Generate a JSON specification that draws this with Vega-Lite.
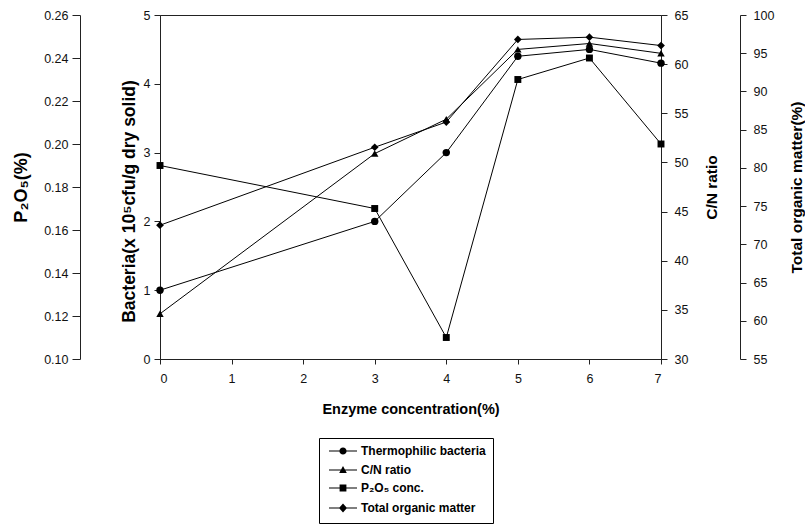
{
  "$schema": "https://vega.github.io/schema/vega-lite/v6.json",
  "width": 501,
  "height": 344,
  "autosize": {"type": "none"},
  "padding": {"left": 160, "top": 15, "right": 144, "bottom": 173},
  "background": "white",
  "config": {
    "view": {"stroke": "#222", "strokeWidth": 1},
    "font": "Liberation Sans",
    "axis": {
      "grid": false,
      "labelFont": "Liberation Sans",
      "labelFontSize": 12.5,
      "labelColor": "#111",
      "titleFont": "Liberation Sans",
      "titleFontWeight": "bold",
      "titleColor": "#000",
      "domainColor": "#222",
      "tickColor": "#222",
      "tickSize": 6,
      "labelPadding": 4
    }
  },
  "data": {
    "values": [
      {"conc": 0, "series": "Thermophilic bacteria", "value": 1.0},
      {"conc": 3, "series": "Thermophilic bacteria", "value": 2.0},
      {"conc": 4, "series": "Thermophilic bacteria", "value": 3.0},
      {"conc": 5, "series": "Thermophilic bacteria", "value": 4.4},
      {"conc": 6, "series": "Thermophilic bacteria", "value": 4.5},
      {"conc": 7, "series": "Thermophilic bacteria", "value": 4.3},
      {"conc": 0, "series": "C/N ratio", "value": 34.6},
      {"conc": 3, "series": "C/N ratio", "value": 50.9},
      {"conc": 4, "series": "C/N ratio", "value": 54.4},
      {"conc": 5, "series": "C/N ratio", "value": 61.5},
      {"conc": 6, "series": "C/N ratio", "value": 62.1},
      {"conc": 7, "series": "C/N ratio", "value": 61.1},
      {"conc": 0, "series": "P₂O₅ conc.", "value": 0.19},
      {"conc": 3, "series": "P₂O₅ conc.", "value": 0.17},
      {"conc": 4, "series": "P₂O₅ conc.", "value": 0.11},
      {"conc": 5, "series": "P₂O₅ conc.", "value": 0.23},
      {"conc": 6, "series": "P₂O₅ conc.", "value": 0.24},
      {"conc": 7, "series": "P₂O₅ conc.", "value": 0.20},
      {"conc": 0, "series": "Total organic matter", "value": 72.5},
      {"conc": 3, "series": "Total organic matter", "value": 82.7},
      {"conc": 4, "series": "Total organic matter", "value": 86.0},
      {"conc": 5, "series": "Total organic matter", "value": 96.8},
      {"conc": 6, "series": "Total organic matter", "value": 97.1},
      {"conc": 7, "series": "Total organic matter", "value": 96.0}
    ]
  },
  "encoding": {
    "x": {
      "field": "conc",
      "type": "quantitative",
      "scale": {"domain": [0, 7], "nice": false, "zero": false},
      "axis": {
        "title": "Enzyme concentration(%)",
        "values": [0, 1, 2, 3, 4, 5, 6, 7],
        "tickSize": 5,
        "labelPadding": 8,
        "titleFontSize": 14.5,
        "titlePadding": 18
      }
    }
  },
  "layer": [
    {
      "transform": [{"filter": "datum.series === 'Thermophilic bacteria'"}],
      "encoding": {
        "y": {
          "field": "value",
          "type": "quantitative",
          "scale": {"domain": [0, 5], "nice": false, "zero": false},
          "axis": {
            "orient": "left",
            "offset": 0,
            "title": "Bacteria(x 10⁵cfu/g dry solid)",
            "values": [0, 1, 2, 3, 4, 5],
            "titleFontSize": 17.5,
            "titlePadding": 5,
            "titleY": 186
          }
        }
      },
      "layer": [
        {"mark": {"type": "line", "color": "#000", "strokeWidth": 1}},
        {"mark": {"type": "point", "shape": "circle", "filled": true, "color": "#000", "opacity": 1, "size": 55}}
      ]
    },
    {
      "transform": [{"filter": "datum.series === 'C/N ratio'"}],
      "encoding": {
        "y": {
          "field": "value",
          "type": "quantitative",
          "scale": {"domain": [30, 65], "nice": false, "zero": false},
          "axis": {
            "orient": "right",
            "offset": 0,
            "title": "C/N ratio",
            "values": [30, 35, 40, 45, 50, 55, 60, 65],
            "labelPadding": 7,
            "titleFontSize": 15.5,
            "titleAngle": 270,
            "titleBaseline": "top",
            "titlePadding": 17
          }
        }
      },
      "layer": [
        {"mark": {"type": "line", "color": "#000", "strokeWidth": 1}},
        {"mark": {"type": "point", "shape": "triangle-up", "filled": true, "color": "#000", "opacity": 1, "size": 55}}
      ]
    },
    {
      "transform": [{"filter": "datum.series === 'P₂O₅ conc.'"}],
      "encoding": {
        "y": {
          "field": "value",
          "type": "quantitative",
          "scale": {"domain": [0.1, 0.26], "nice": false, "zero": false},
          "axis": {
            "orient": "left",
            "offset": 80,
            "title": "P₂O₅(%)",
            "values": [0.1, 0.12, 0.14, 0.16, 0.18, 0.2, 0.22, 0.24, 0.26],
            "format": ".2f",
            "tickSize": 8,
            "titleFontSize": 18,
            "titlePadding": 13
          }
        }
      },
      "layer": [
        {"mark": {"type": "line", "color": "#000", "strokeWidth": 1}},
        {"mark": {"type": "point", "shape": "square", "filled": true, "color": "#000", "opacity": 1, "size": 48}}
      ]
    },
    {
      "transform": [{"filter": "datum.series === 'Total organic matter'"}],
      "encoding": {
        "y": {
          "field": "value",
          "type": "quantitative",
          "scale": {"domain": [55, 100], "nice": false, "zero": false},
          "axis": {
            "orient": "right",
            "offset": 79,
            "title": "Total organic matter(%)",
            "values": [55, 60, 65, 70, 75, 80, 85, 90, 95, 100],
            "labelPadding": 7,
            "titleFontSize": 15.5,
            "titleAngle": 270,
            "titleBaseline": "top",
            "titlePadding": 16
          }
        }
      },
      "layer": [
        {"mark": {"type": "line", "color": "#000", "strokeWidth": 1}},
        {"mark": {"type": "point", "shape": "diamond", "filled": true, "color": "#000", "opacity": 1, "size": 60}},
        {
          "mark": {"type": "point", "filled": true, "color": "#000", "opacity": 0, "size": 64},
          "encoding": {
            "shape": {
              "field": "series",
              "type": "nominal",
              "scale": {
                "domain": ["Thermophilic bacteria", "C/N ratio", "P₂O₅ conc.", "Total organic matter"],
                "range": [
                  "M-3.5,-0.13H3.5V0.13H-3.5ZM-0.9,0A0.9,0.9,0,1,1,0.9,0A0.9,0.9,0,1,1,-0.9,0Z",
                  "M-3.5,-0.13H3.5V0.13H-3.5ZM0,-1L0.95,0.75L-0.95,0.75Z",
                  "M-3.5,-0.13H3.5V0.13H-3.5ZM-0.85,-0.85H0.85V0.85H-0.85Z",
                  "M-3.5,-0.13H3.5V0.13H-3.5ZM0,-1.15L1,0L0,1.15L-1,0Z"
                ]
              },
              "legend": {
                "orient": "none",
                "legendX": 159,
                "legendY": 423,
                "title": null,
                "strokeColor": "#000",
                "fillColor": "white",
                "padding": 7,
                "cornerRadius": 0,
                "labelFont": "Liberation Sans",
                "labelFontWeight": "bold",
                "labelFontSize": 12,
                "labelColor": "#000",
                "symbolSize": 64,
                "symbolOffset": 11,
                "labelOffset": 12,
                "rowPadding": 5,
                "symbolOpacity": 1,
                "symbolFillColor": "#000"
              }
            }
          }
        }
      ]
    }
  ],
  "resolve": {"scale": {"y": "independent"}}
}
